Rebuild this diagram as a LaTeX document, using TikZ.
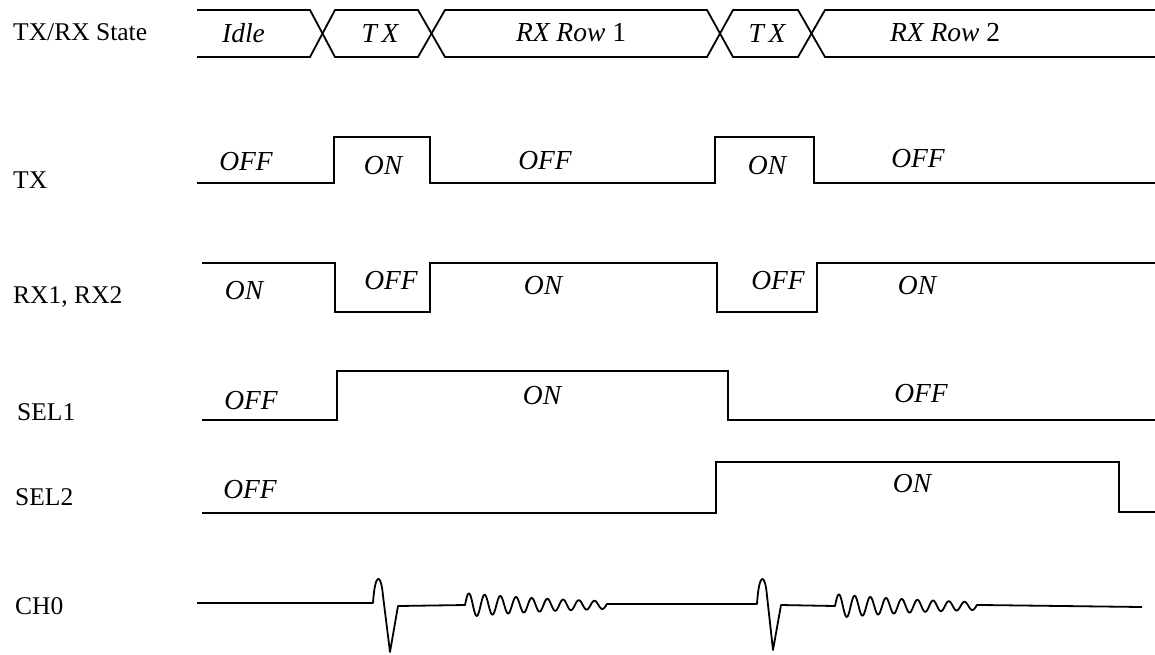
\documentclass[tikz,border=0pt]{standalone}
\usepackage{fontspec}
\setmainfont{Liberation Serif}
\begin{document}
\begin{tikzpicture}[x=1pt,y=-1pt,
  wave/.style={line width=1.8pt, line join=miter},
  lbl/.style={anchor=west, inner sep=0pt, font=\fontsize{25.5}{30}\selectfont},
  st/.style={inner sep=0pt, font=\fontsize{27.5}{32}\selectfont\itshape}]
\useasboundingbox (0,0) rectangle (1155,654);

% left labels
\node[lbl] (lstate) at (13,32) {TX/RX State};
\node[lbl] (ltx) at (13,180) {TX};
\node[lbl] (lrx) at (13,297) {RX1, RX2};
\node[lbl] (lsel1) at (17,412) {SEL1};
\node[lbl] (lsel2) at (15,497) {SEL2};
\node[lbl] (lch0) at (15,606) {CH0};

% bus
\draw[wave] (197,10) -- (310,10) -- (335,57) -- (418,57) -- (445,10) -- (707,10) -- (733,57) -- (798,57) -- (825,10) -- (1155,10);
\draw[wave] (197,57) -- (310,57) -- (335,10) -- (418,10) -- (445,57) -- (707,57) -- (733,10) -- (798,10) -- (825,57) -- (1155,57);
\node[st] (b1) at (243.5,33) {Idle};
\node[st] (b2) at (380,33) {T\,X};
\node[st] (b3) at (571,33) {RX Row \upshape 1};
\node[st] (b4) at (767,33) {T\,X};
\node[st] (b5) at (945,33) {RX Row \upshape 2};

% TX
\draw[wave] (197,183) -- (334,183) -- (334,137) -- (430,137) -- (430,183) -- (715,183) -- (715,137) -- (814,137) -- (814,183) -- (1155,183);
\node[st] (t1) at (246,162) {OFF};
\node[st] (t2) at (383,166) {ON};
\node[st] (t3) at (545,161) {OFF};
\node[st] (t4) at (767,166) {ON};
\node[st] (t5) at (918,159) {OFF};

% RX
\draw[wave] (202,263) -- (335,263) -- (335,312) -- (430,312) -- (430,263) -- (717,263) -- (717,312) -- (817,312) -- (817,263) -- (1155,263);
\node[st] (r1) at (244,291) {ON};
\node[st] (r2) at (391,281) {OFF};
\node[st] (r3) at (543,286) {ON};
\node[st] (r4) at (778,281) {OFF};
\node[st] (r5) at (917,286) {ON};

% SEL1
\draw[wave] (202,420) -- (337,420) -- (337,371) -- (728,371) -- (728,420) -- (1155,420);
\node[st] (s1) at (251,401) {OFF};
\node[st] (s2) at (542,396) {ON};
\node[st] (s3) at (921,394) {OFF};

% SEL2
\draw[wave] (202,513) -- (716,513) -- (716,462) -- (1119,462) -- (1119,512) -- (1155,512);
\node[st] (q1) at (250,490) {OFF};
\node[st] (q2) at (912,484) {ON};

% CH0
\draw[wave, line join=round] (197,603) -- (373,603) .. controls (375,572) and (381,572) .. (383,596) -- (390,652) -- (398,606) -- (465,605)
  -- plot[domain=0:142, samples=300, smooth] ({465+\x},{605-12*exp(-\x/125)*sin(\x*22.93)})
  -- (757,604) .. controls (759,572) and (765,572) .. (767,596) -- (773,650) -- (781,605) -- (835,606)
  -- plot[domain=0:142, samples=300, smooth] ({835+\x},{606-12*exp(-\x/125)*sin(\x*22.93)})
  -- (1142,607);
\end{tikzpicture}
\end{document}
